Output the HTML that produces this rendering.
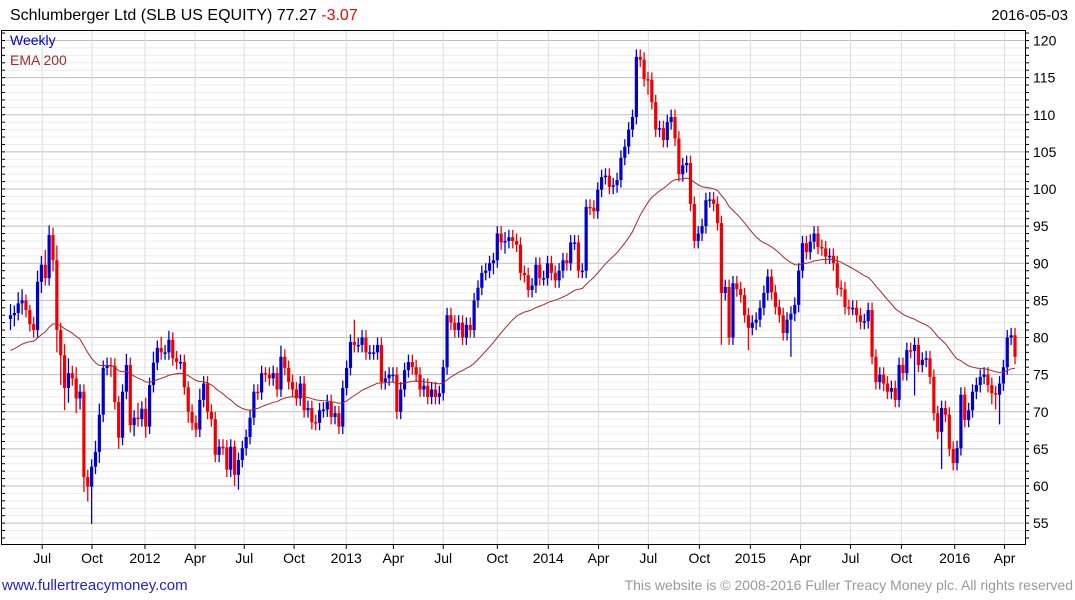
<!DOCTYPE html>
<html><head><meta charset="utf-8">
<style>
body{margin:0;background:#fff;width:1075px;height:600px;overflow:hidden;font-family:"Liberation Sans",sans-serif;}
</style></head>
<body>
<svg id="chart" width="1075" height="600" xmlns="http://www.w3.org/2000/svg" style="position:absolute;left:0;top:0">
<text x="10" y="20" font-size="16" fill="#000" font-family="Liberation Sans, sans-serif">Schlumberger Ltd (SLB US EQUITY) 77.27 <tspan fill="#f00">-3.07</tspan></text>
<text x="1068" y="20" font-size="15" text-anchor="end" fill="#000" font-family="Liberation Sans, sans-serif">2016-05-03</text>
<g id="grid"></g>
<g id="marks"></g>
<rect x="1.5" y="30.5" width="1024" height="514" fill="none" stroke="#000" stroke-width="1"/>
<g id="axes"></g>
<text x="10" y="45" font-size="14" fill="#00c">Weekly</text>
<text x="10" y="65" font-size="14" fill="#a52a2a">EMA 200</text>
<a><text x="2" y="590" font-size="15" fill="#22c">www.fullertreacymoney.com</text></a>
<text x="1073" y="590" font-size="14" text-anchor="end" fill="#999">This website is © 2008-2016 Fuller Treacy Money plc. All rights reserved</text>
</svg>
<script>
const closes=[83,83.3,84.6,85,83.7,81.8,81,87.5,89.8,88,93.8,90.4,81,77.6,73.2,75.2,74.5,71.8,72.7,61.2,59.9,62.6,64.6,69.6,75.9,76.3,76.2,71.3,66.5,72.7,76.3,68.2,69.2,69,70.4,68,73.6,76.6,78.6,78,78,79.7,77.2,76.7,76.7,73.3,70,68.5,67.6,71.6,73.8,70,69,64.2,65.3,65.2,62.2,65.3,61.5,63.5,65.1,66.6,69.2,72.7,72.6,75.2,75,74.5,75.2,73,77.4,75.9,74,73,71.8,73.8,70.2,70.5,68.6,68.5,70.2,70.3,71.3,69.3,69.8,68,73.2,75.9,79.4,79,79,80,78,78,78,79,74,74.5,75,75,70,73,75.6,76.7,76,75,73,73.5,72,73,72,72.5,76,83,82,81,82,80,81.7,81,85,86.7,88.7,89,90,90.4,94,92.8,93,93.5,93,92.5,88.7,88.4,86.4,87,89.8,88,88,90,88.7,87.7,89,90.4,90,92.8,92.8,89,89,97.6,97.5,97,99.9,101.6,101.8,100.3,100.5,101.2,104.2,105.7,108,109.7,117.8,117.4,114.8,114.7,111.7,108,108.2,106.6,109,109.7,106.8,102,103.2,103.5,98,93,94,95,98.5,98.6,98,95.4,86,86.8,80,87.3,86.5,85.7,83,81.3,82,82.4,84,86,88.2,86.1,84.1,83,80.6,82.4,83.2,84.4,89,92.7,91.5,92.9,94,92.2,92,90.9,91,90,86.7,86.5,84.1,84,84,83,82.1,82.2,83.7,77.4,74,75,73.8,72.7,73.2,71.6,76.3,75.2,78.3,78.2,79,76.3,77,77.2,74.7,69.8,67.3,70.5,69.6,65,63.1,65.1,72.3,68.9,70.2,72.7,73.6,74.7,75,73.6,72.5,72.3,73.8,76,80,80.3,77.4];
const wickUp=[1.5,1,1.5,1.5,0.8,0.7,1,1.5,1.2,2,1.3,1,2,1,1.5,2,1,1.5,1,1,1,1,1.5,1.5,1,1,1,1,0.8,1,1.5,1,1,2,1,1.5,1,1.5,1,1.5,1,1.2,1,1,1,1,0.8,1,1,1.5,1,1,1,1,1,1,1,1,0.8,1,1,1,1,1,1,1,0.8,1,1,0.8,1.5,1,1,1,1,1,1,1,1,1,1,1,1,1,1,1,1,1,1,3,1,1,1,1,1,1,1,1,1,1,1,1,1,1,1,1,1,1,1,1,1,1,1,1,1,1,1,1,1,1,1,1,1,1,1,1,1,1,1.2,1,1,1,1,1,1,1,1,1,1,1,1,1,1,1,1,1,1,1,1,1,1,1,1,1,1,1,1,1,1,1,1,1,1,1,1,1,1,1,1,1,1,1,1,1,1,1,1,1,1,1,1,1,1,1,1,1,1,1,1,1,1,1,1,1,1,1,1,1,1,1,1,1,1,1,1,1,1,1,1,1,1,1,1,1,1,1,1,1,1,1,1,1,1,1,1,1,1,1,1,1,1,1,1,1,1,1,1,1,1,1,1,1,1,1,1,1,1,1,1,1,1,1,1,1,1,1,1,1,1,1,1,1,1,1,1,1,1,1,1,1,1,1,1];
const wickDown=[1.5,1.5,1,1.5,1,1,1,1,1.5,1,1,1.5,3,4,3,2,1,2,1.5,2,2,5,1,1.5,1,1,1.5,1,1.5,1,1,1,1.5,1,1,1.5,1,1,1,1,1,1,1,1,1,1,1.5,1,1,1,1,1,1,1,1,1,1,1,1.5,2,1,1,1,1,1,1,1,1,1,1,1,1,1,1,1,1,1,1,1,1,1,1,1,1,1,1,1,1,1,1,1,1,1,1,1,1,1,1,1,1,1,1,1,1,1,1,1,1,1,1,1,1,1,1,1,1,1,1,1,1,1,1,1,1,1,1.5,1,1,1.5,1,1,1,1,1,1,1,1,1,1,1,1,1,1,1,1,1,1,1,1,1,1,1,1,1,1,1,1,1,1,1,1,1,1,1,1,2,1,1,1,1,1,1,1,1,1,1,1,1,1,1,1,1,1,1,7,1,1,1,1,1,1,3,1,1,1,1,1,1,1,1,1,1,5,1,1,1,1,1,1,1,1,1,1,1,1,1,1,1,1,1,1,1,1,1,1,1,1,1,1,1,1,1,1,1,6,1,1,1,1,1,1,5,1,1,1,1,1,1,1,1,1,1,1,1,1.5,2,4,1,1,1,1,1,1,1,1,1,1,1,1,1,1];
const yTicks=[55,60,65,70,75,80,85,90,95,100,105,110,115,120];
const xTickLabels=["Jul","Oct","2012","Apr","Jul","Oct","2013","Apr","Jul","Oct","2014","Apr","Jul","Oct","2015","Apr","Jul","Oct","2016","Apr"];
const xTickWeeks=[8.2,21.1,34.8,47.8,60.5,73.4,86.9,99.1,112,126,139.2,152.2,165.1,178.3,191.5,204.5,217.4,230.6,244.4,257.3];
const emaStart=78;

const NS="http://www.w3.org/2000/svg";
const X0=10.5,X1=1015,PT=30,PB=544;
const N=closes.length;
function xs(i){return X0+i*(X1-X0)/(N-1);}
function ys(v){return 189+(100-v)*7.425;}
function mk(tag,attrs,parent){const e=document.createElementNS(NS,tag);for(const k in attrs)e.setAttribute(k,attrs[k]);parent.appendChild(e);return e;}
const grid=document.getElementById('grid'),marks=document.getElementById('marks'),axes=document.getElementById('axes');
for(let v=53;v<=121;v++){const y=ys(v);if(y<PT||y>PB)continue;
 const l=mk('line',{x1:2,x2:1025,y1:y,y2:y,stroke:(v%5===0)?'#bdbdbd':'#ececec','stroke-width':1},grid);
 
 
 const t=mk('line',{x1:1026,x2:1029,y1:y,y2:y,stroke:'#000'},axes);
 
 
 const t2=mk('line',{x1:2,x2:5,y1:y,y2:y,stroke:'#000'},axes);
 
 
}
yTicks.forEach(v=>{const t=mk('text',{x:1033,y:ys(v)+5,'font-size':14,fill:'#000'},axes);t.textContent=v;
 
 });
xTickWeeks.forEach((w,k)=>{const x=xs(w);
 const l=mk('line',{x1:x,x2:x,y1:PT,y2:PB,stroke:'#dcdcdc'},grid);
 
 
 const tk=mk('line',{x1:x,x2:x,y1:PB,y2:PB+5,stroke:'#000'},axes);
 
 
 const t=mk('text',{x:x,y:563,'font-size':14,'text-anchor':'middle',fill:'#000'},axes);t.textContent=xTickLabels[k];
 
 });
let ema=emaStart;const pts=[];const a=2/41;
for(let i=0;i<N;i++){const c=closes[i],o=i?closes[i-1]:c-0.5;const up=c>=o;
 const col=up?'#0000d0':'#f00000';const x=xs(i);
 const hi=Math.max(o,c)+wickUp[i%wickUp.length],lo=Math.min(o,c)-wickDown[i%wickDown.length];
 const w=mk('line',{x1:x,x2:x,y1:ys(hi),y2:ys(lo),stroke:col,'stroke-width':1.3},marks);
 
 
 const top=ys(Math.max(o,c)),h=Math.max(1.5,ys(Math.min(o,c))-top);
 const b=mk('rect',{x:x-1.6,y:top,width:3.2,height:h,fill:col},marks);
 
 
 ema=ema+a*(c-ema);pts.push(x.toFixed(1)+','+ys(ema).toFixed(1));}
const pl=mk('polyline',{points:pts.join(' '),fill:'none',stroke:'#a52a2a','stroke-width':1},marks);


</script>
</body></html>
